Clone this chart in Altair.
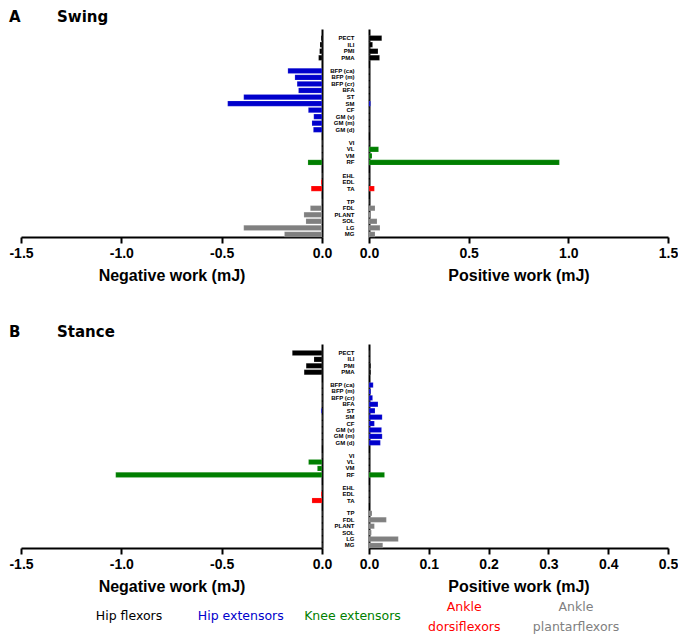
import altair as alt
import pandas as pd

muscles = ["PECT", "ILI", "PMI", "PMA",
           "BFP (ca)", "BFP (m)", "BFP (cr)", "BFA", "ST", "SM", "CF", "GM (v)", "GM (m)", "GM (d)",
           "VI", "VL", "VM", "RF",
           "EHL", "EDL", "TA",
           "TP", "FDL", "PLANT", "SOL", "LG", "MG"]
groups = (["Hip flexors"] * 4 + ["Hip extensors"] * 10 + ["Knee extensors"] * 4
          + ["Ankle dorsiflexors"] * 3 + ["Ankle plantarflexors"] * 6)

swing_neg = [0.005, 0.01, 0.012, 0.017,
             0.17, 0.135, 0.124, 0.117, 0.39, 0.47, 0.068, 0.041, 0.05, 0.043,
             0.0, 0.0, 0.0, 0.07,
             0.0, 0.005, 0.054,
             0.005, 0.058, 0.09, 0.08, 0.39, 0.187]
swing_pos = [0.064, 0.018, 0.045, 0.053,
             0.0, 0.0, 0.0, 0.0, 0.0, 0.008, 0.0, 0.0, 0.0, 0.0,
             0.0, 0.048, 0.015, 0.955,
             0.0, 0.0, 0.027,
             0.0, 0.03, 0.005, 0.04, 0.055, 0.03]
stance_neg = [0.148, 0.04, 0.079, 0.089,
              0.0, 0.0, 0.0, 0.0, 0.004, 0.0, 0.0, 0.0, 0.0, 0.0,
              0.0, 0.067, 0.023, 1.028,
              0.0, 0.005, 0.05,
              0.0, 0.0, 0.0, 0.0, 0.0, 0.0]
stance_pos = [0.0, 0.0, 0.003, 0.003,
              0.007, 0.003, 0.006, 0.015, 0.01, 0.022, 0.009, 0.021, 0.022, 0.019,
              0.0, 0.0, 0.0, 0.026,
              0.0, 0.0, 0.0,
              0.005, 0.029, 0.009, 0.004, 0.049, 0.023]

group_names = ["Hip flexors", "Hip extensors", "Knee extensors", "Ankle dorsiflexors", "Ankle plantarflexors"]
group_colors = ["#000000", "#0000CC", "#007F00", "#FF0000", "#808080"]
legend_labels = ["Hip flexors", "Hip extensors", "Knee extensors", "Ankle\ndorsiflexors", "Ankle\nplantarflexors"]
legend_lines = [1, 1, 1, 2, 2]

y_order = (["     "] + muscles[0:4] + [" "] + muscles[4:14] + ["  "] + muscles[14:18]
           + ["   "] + muscles[18:21] + ["    "] + muscles[21:27])

color_scale = alt.Scale(domain=group_names, range=group_colors)

AX = dict(domainColor="black", domainWidth=2, tickColor="black", tickWidth=2, tickSize=6,
          labelFont="Liberation Sans", labelFontWeight="bold", labelFontSize=14, labelColor="black",
          labelPadding=3, titleFont="Liberation Sans", titleFontWeight="bold", titleFontSize=16,
          titleColor="black", titlePadding=7, grid=False, labelFlush=False,
          labelExpr="replace(datum.label, '\u2212', '-')")


def frame(vals, sign):
    return pd.DataFrame({"muscle": muscles, "group": groups,
                         "v": [sign * v for v in vals]})


def panel(vals, sign, width, height, domain, ticks, title):
    yscale = alt.Scale(domain=y_order, paddingInner=0.2, paddingOuter=0)
    if sign < 0:
        yaxis = alt.Axis(orient="right", labels=False, ticks=False, title=None,
                         domainColor="black", domainWidth=2, grid=False)
    else:
        yaxis = alt.Axis(orient="left", labels=True, ticks=False, title=None,
                         domainColor="black", domainWidth=2, grid=False,
                         labelFont="Liberation Sans", labelFontWeight="bold",
                         labelFontSize=6, labelColor="black", labelPadding=15)
    return alt.Chart(frame(vals, sign)).mark_bar(stroke="white", strokeOpacity=0.35, strokeWidth=0.4).encode(
        x=alt.X("v:Q", scale=alt.Scale(domain=domain, nice=False),
                axis=alt.Axis(values=ticks, format=".1f", title=title, **AX)),
        y=alt.Y("muscle:N", scale=yscale, axis=yaxis),
        color=alt.Color("group:N", scale=color_scale, legend=None),
    ).properties(width=width, height=height)


def heading(letter, word):
    a = alt.Chart(pd.DataFrame({"t": [letter]})).mark_text(
        font="DejaVu Sans", fontWeight="bold", fontSize=15, align="left", baseline="middle", color="black"
    ).encode(text="t:N", x=alt.value(-12), y=alt.value(-12))
    b = alt.Chart(pd.DataFrame({"t": [word]})).mark_text(
        font="DejaVu Sans", fontWeight="bold", fontSize=15, align="left", baseline="middle", color="black"
    ).encode(text="t:N", x=alt.value(36), y=alt.value(-12))
    return a + b


legend_df = pd.DataFrame({"label": legend_labels, "group": group_names, "lines": legend_lines})
legend_x = alt.X("label:N",
                 scale=alt.Scale(type="point", domain=legend_labels, range=[108, 555], padding=0),
                 axis=None)
legend_base = alt.Chart(legend_df).mark_text(
    font="DejaVu Sans", fontSize=12.5, lineBreak="\n", lineHeight=20, baseline="middle", align="center"
)
legend_one = legend_base.transform_filter("datum.lines == 1").encode(
    x=legend_x, y=alt.value(272), text="label:N",
    color=alt.Color("group:N", scale=color_scale, legend=None),
)
legend_two = legend_base.transform_filter("datum.lines == 2").encode(
    x=legend_x, y=alt.value(263), text="label:N",
    color=alt.Color("group:N", scale=color_scale, legend=None),
)

swing_neg_c = alt.layer(
    panel(swing_neg, -1, 301, 208, [-1.5, 0], [-1.5, -1.0, -0.5, 0.0], "Negative work (mJ)"),
    heading("A", "Swing"))
swing_pos_c = panel(swing_pos, 1, 299, 208, [0, 1.5], [0.0, 0.5, 1.0, 1.5], "Positive work (mJ)")
stance_neg_c = alt.layer(
    panel(stance_neg, -1, 301, 204, [-1.5, 0], [-1.5, -1.0, -0.5, 0.0], "Negative work (mJ)"),
    heading("B", "Stance"),
    legend_one, legend_two,
).resolve_scale(x="independent")
stance_pos_c = panel(stance_pos, 1, 299, 204, [0, 0.5], [0.0, 0.1, 0.2, 0.3, 0.4, 0.5], "Positive work (mJ)")

chart = alt.concat(
    swing_neg_c, swing_pos_c, stance_neg_c, stance_pos_c,
    columns=2, spacing={"row": 107, "column": 47}, bounds="flush",
).properties(padding={"left": 0, "top": 2, "right": 0, "bottom": 0}).configure_view(stroke=None)

chart.save("out.html", embed_options={"renderer": "svg", "actions": False})
